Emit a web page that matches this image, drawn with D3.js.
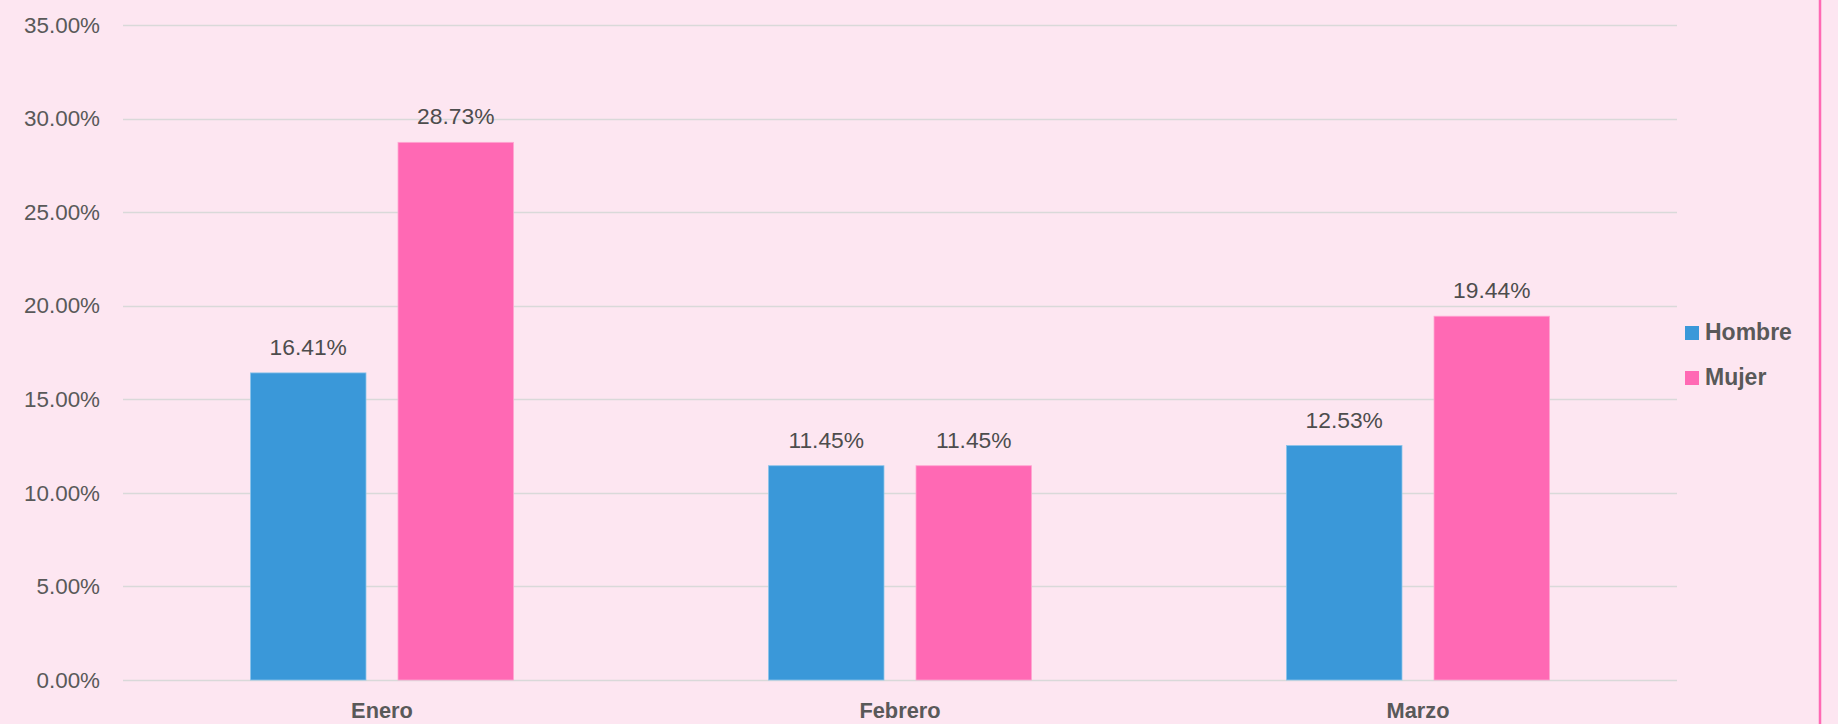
<!DOCTYPE html>
<html>
<head>
<meta charset="utf-8">
<script src="https://cdn.jsdelivr.net/npm/d3@7"></script>
<style>
  html, body { margin: 0; padding: 0; background: #fde6f1; }
  svg { display: block; font-family: "Liberation Sans", Arial, sans-serif; }
</style>
</head>
<body>
<div id="chart"></div>
<script>
const W = 1838
const H = 724

const categories = ['Enero', 'Febrero', 'Marzo']
const series = ['Hombre', 'Mujer']
const hombre = [16.41, 11.45, 12.53]
const mujer = [28.73, 11.45, 19.44]
const yTicks = [0, 5, 10, 15, 20, 25, 30, 35]
const colors = ['#3a98d9', '#ff69b4']

const table = categories.map((c, i) => ({ cat: c, values: [hombre[i], mujer[i]] }))

const FONT = '"Liberation Sans", Arial, sans-serif'
const margin = { top: 25, right: 161, bottom: 44, left: 123 }

const svg = d3.select('#chart')
  .append('svg')
  .attr('width', W)
  .attr('height', H)

svg.append('rect')
  .attr('width', W)
  .attr('height', H)
  .attr('fill', '#fde6f1')

const x = d3.scaleBand()
  .domain(categories)
  .range([margin.left, W - margin.right])

const xInner = d3.scaleBand()
  .domain(series)
  .range([0, x.bandwidth()])
  .paddingInner(0.217)
  .paddingOuter(0.864)

const y = d3.scaleLinear()
  .domain([0, 35])
  .range([H - margin.bottom, margin.top])

// gridlines
svg.append('g')
  .selectAll('line')
  .data(yTicks)
  .join('line')
  .attr('x1', margin.left)
  .attr('x2', W - margin.right)
  .attr('y1', d => Math.round(y(d)) + 0.5)
  .attr('y2', d => Math.round(y(d)) + 0.5)
  .attr('stroke', '#d9d9d9')
  .attr('stroke-width', 1.5)

// y axis labels
const yAxis = d3.axisLeft(y)
  .tickValues(yTicks)
  .tickSize(0)
  .tickPadding(0)
  .tickFormat(d => d.toFixed(2) + '%')
svg.append('g')
  .attr('transform', `translate(${100}, 0)`)
  .call(yAxis)
  .call(g => g.select('.domain').remove())
  .call(g => g.selectAll('text')
    .attr('fill', '#595959')
    .attr('font-size', 22.4)
    .attr('font-family', FONT))

// bars
const gCat = svg.append('g')
  .selectAll('g')
  .data(table)
  .join('g')
  .attr('transform', d => `translate(${x(d.cat)}, 0)`)

gCat.selectAll('rect')
  .data(d => d.values.map((v, i) => ({ s: series[i], v, i })))
  .join('rect')
  .attr('x', d => xInner(d.s))
  .attr('width', xInner.bandwidth())
  .attr('y', d => y(d.v))
  .attr('height', d => y(0) - y(d.v))
  .attr('fill', d => colors[d.i])
  .attr('stroke', d => d.i === 0 ? '#8cc4ea' : '#ffa6d2')
  .attr('stroke-width', 0.8)

gCat.selectAll('text')
  .data(d => d.values.map((v, i) => ({ s: series[i], v, i })))
  .join('text')
  .attr('x', d => xInner(d.s) + xInner.bandwidth() / 2)
  .attr('y', d => y(d.v) - 18)
  .attr('text-anchor', 'middle')
  .attr('fill', '#4d4d4d')
  .attr('font-size', 22.8)
  .text(d => d.v.toFixed(2) + '%')

// x axis labels
const xAxis = d3.axisBottom(x).tickSize(0).tickPadding(0)
svg.append('g')
  .attr('transform', `translate(0, ${H - margin.bottom})`)
  .call(xAxis)
  .call(g => g.select('.domain').remove())
  .call(g => g.selectAll('text')
    .attr('dy', 38)
    .attr('fill', '#595959')
    .attr('font-size', 21.8)
    .attr('font-weight', 'bold')
    .attr('font-family', FONT))

// legend
const legend = svg.append('g')
  .attr('transform', 'translate(1685, 326)')
const li = legend.selectAll('g')
  .data(series)
  .join('g')
  .attr('transform', (d, i) => `translate(0, ${i * 45})`)
li.append('rect')
  .attr('width', 14)
  .attr('height', 14)
  .attr('fill', (d, i) => colors[i])
li.append('text')
  .attr('x', 20)
  .attr('y', 14)
  .attr('fill', '#595959')
  .attr('font-size', 23)
  .attr('font-weight', 'bold')
  .text(d => d)

// right border
svg.append('line')
  .attr('x1', 1820)
  .attr('x2', 1820)
  .attr('y1', 0)
  .attr('y2', H)
  .attr('stroke', '#ff69b4')
  .attr('stroke-width', 2.5)
</script>
</body>
</html>
